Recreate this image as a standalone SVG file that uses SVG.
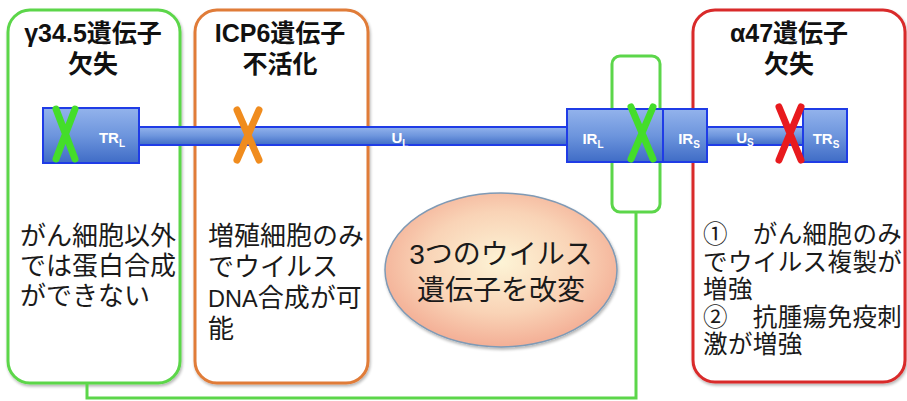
<svg xmlns="http://www.w3.org/2000/svg" width="907" height="401" viewBox="0 0 907 401">
<defs>
<linearGradient id="blueG" x1="0" y1="0" x2="0" y2="1">
<stop offset="0" stop-color="#93b3ec"/>
<stop offset="0.5" stop-color="#6d95dd"/>
<stop offset="1" stop-color="#3f6cc6"/>
</linearGradient>
<radialGradient id="ellG" cx="0.5" cy="0.45" r="0.6">
<stop offset="0" stop-color="#fdf4d6"/>
<stop offset="0.55" stop-color="#f9d3b6"/>
<stop offset="1" stop-color="#f2a68e"/>
</radialGradient>
<filter id="sh" x="-10%" y="-10%" width="130%" height="130%">
<feGaussianBlur in="SourceAlpha" stdDeviation="1.5"/>
<feOffset dx="1" dy="2" result="b"/>
<feComponentTransfer><feFuncA type="linear" slope="0.3"/></feComponentTransfer>
<feMerge><feMergeNode/><feMergeNode in="SourceGraphic"/></feMerge>
</filter>
</defs>
<style>
.box{fill:#fff;stroke-width:3}
.title{font-family:"Liberation Sans","Noto Sans CJK JP",sans-serif;font-weight:bold;font-size:25px;fill:#111;text-anchor:middle}
.body{font-family:"Liberation Sans","Noto Sans CJK JP",sans-serif;font-size:26px;fill:#1a1a1a}
.bodyr{font-family:"Liberation Sans","Noto Sans CJK JP",sans-serif;font-size:24.5px;letter-spacing:0.4px;fill:#1a1a1a}
.dna{fill:url(#blueG);stroke:#1f3ce6;stroke-width:2}
.lbl{font-family:"Liberation Sans",sans-serif;font-weight:bold;font-size:15px;fill:#fff;text-anchor:middle}
.sub{font-size:10px}
.x{fill:none;stroke-width:7;stroke-linecap:round}
.conn{fill:none;stroke:#5cd64a;stroke-width:3}
</style>

<g id="box-gamma">
<rect class="box" x="8" y="10" width="172" height="373" rx="22" stroke="#5cd64a" filter="url(#sh)"/>
<text class="title" x="93" y="42">γ34.5遺伝子<tspan x="93" dy="31">欠失</tspan></text>
<text class="body" x="20" y="245">がん細胞以外<tspan x="20" dy="30">では蛋白合成</tspan><tspan x="20" dy="30">ができない</tspan></text>
</g>

<g id="box-icp6">
<rect class="box" x="195" y="10" width="173" height="373" rx="22" stroke="#e07b39" filter="url(#sh)"/>
<text class="title" x="280" y="42">ICP6遺伝子<tspan x="280" dy="31">不活化</tspan></text>
<text class="body" x="208" y="245">増殖細胞のみ<tspan x="208" dy="31">でウイルス</tspan><tspan x="208" dy="31" font-size="23.5">DNA</tspan><tspan>合成が可</tspan><tspan x="208" dy="31">能</tspan></text>
</g>

<g id="box-alpha">
<rect class="box" x="693" y="10" width="212" height="372" rx="22" stroke="#d92a2a" stroke-width="2.5" filter="url(#sh)"/>
<text class="title" x="789" y="42">α47遺伝子<tspan x="789" dy="31">欠失</tspan></text>
<text class="bodyr" x="703" y="243">①　がん細胞のみ<tspan x="703" dy="27.5">でウイルス複製が</tspan><tspan x="703" dy="27.5">増強</tspan><tspan x="703" dy="27.5">②　抗腫瘍免疫刺</tspan><tspan x="703" dy="27.5">激が増強</tspan></text>
</g>

<g id="box-irl">
<rect x="612" y="56" width="48" height="156" rx="8" fill="none" stroke="#5cd64a" stroke-width="3"/>
</g>

<g id="connectors">
<polyline class="conn" points="636,212 636,398 87,398 87,383"/>
</g>

<g id="ellipse">
<ellipse cx="501" cy="270" rx="116" ry="77" fill="url(#ellG)" stroke="#7f9ab5" stroke-width="1.5" filter="url(#sh)"/>
<text x="501" y="264" font-family="Liberation Sans,Noto Sans CJK JP,sans-serif" font-size="28" fill="#1a1a1a" text-anchor="middle">3つのウイルス<tspan x="501" dy="36">遺伝子を改変</tspan></text>
</g>

<g id="genome">
<rect class="dna" x="139" y="127" width="428" height="18"/>
<rect class="dna" x="707" y="127" width="96" height="18"/>
<rect class="dna" x="43" y="108" width="96" height="55"/>
<rect class="dna" x="567" y="109" width="96" height="53"/>
<rect class="dna" x="663" y="109" width="44" height="53"/>
<rect class="dna" x="803" y="109" width="44" height="53"/>
<text class="lbl" x="112" y="143">TR<tspan class="sub" dy="4">L</tspan></text>
<text class="lbl" x="400" y="143">U<tspan class="sub" dy="4">L</tspan></text>
<text class="lbl" x="593" y="144">IR<tspan class="sub" dy="4">L</tspan></text>
<text class="lbl" x="689" y="144">IR<tspan class="sub" dy="4">S</tspan></text>
<text class="lbl" x="745" y="143">U<tspan class="sub" dy="3">S</tspan></text>
<text class="lbl" x="826" y="144">TR<tspan class="sub" dy="4">S</tspan></text>
</g>

<g id="marks">
<path class="x" stroke="#44dd2a" d="M56,109 L75,159 M75,109 L56,159"/>
<path class="x" stroke="#f08c1e" d="M237,110 L259,160 M259,110 L237,160"/>
<path class="x" stroke="#44dd2a" d="M631,107 L653,159 M653,107 L631,159"/>
<path class="x" stroke="#e81a1e" d="M779,107 L801,160 M801,107 L779,160"/>
</g>
</svg>
